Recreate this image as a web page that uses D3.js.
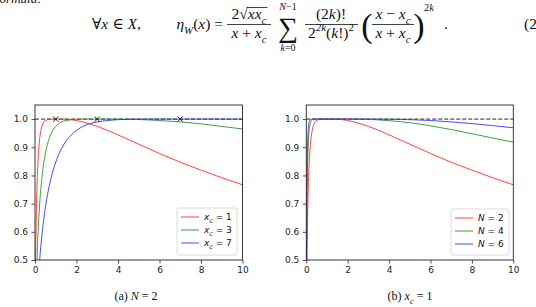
<!DOCTYPE html>
<html>
<head>
<meta charset="utf-8">
<script src="https://cdn.jsdelivr.net/npm/d3@7"></script>
<style>
  body { margin: 0; background: white; }
  svg { display: block; }
</style>
</head>
<body>
<div id="container"></div>
<script>
let w = 536;
let h = 307;

// sample points along x (shared by every curve)
let xGrid = [0, 0.025, 0.05, 0.1, 0.15, 0.2, 0.3, 0.4, 0.5, 0.75, 1, 1.25, 1.5, 2, 2.5, 3, 3.5, 4, 5, 6, 7, 8, 9, 10];

// panel (a): N = 2, different x_c
let etaXc1 = [0, 0.448, 0.600, 0.767, 0.858, 0.911, 0.965, 0.987, 0.995, 0.9998, 1.0, 0.9999, 0.9994, 0.995, 0.986, 0.974, 0.960, 0.944, 0.911, 0.878, 0.847, 0.819, 0.792, 0.767];
let etaXc3 = [0, 0.269, 0.373, 0.508, 0.600, 0.670, 0.767, 0.833, 0.878, 0.944, 0.974, 0.989, 0.995, 0.9994, 1.0, 1.0, 1.0, 0.9998, 0.9985, 0.995, 0.990, 0.983, 0.974, 0.965];
let etaXc7 = [0, 0.178, 0.249, 0.347, 0.418, 0.475, 0.564, 0.632, 0.686, 0.784, 0.847, 0.891, 0.922, 0.960, 0.980, 0.990, 0.995, 0.998, 0.9997, 1.0, 1.0, 1.0, 0.9999, 0.9997];
let crossX = [1, 3, 7];
let labelsA = ["1", "3", "7"];

// panel (b): x_c = 1, different N
let etaN2 = [0, 0.448, 0.600, 0.767, 0.858, 0.911, 0.965, 0.987, 0.995, 0.9998, 1.0, 0.9999, 0.9994, 0.995, 0.986, 0.974, 0.960, 0.944, 0.911, 0.878, 0.847, 0.819, 0.792, 0.767];
let etaN4 = [0, 0.614, 0.780, 0.918, 0.967, 0.987, 0.998, 0.9997, 1.0, 1.0, 1.0, 1.0, 1.0, 1.0, 0.9997, 0.9988, 0.9971, 0.9945, 0.987, 0.976, 0.963, 0.948, 0.933, 0.918];
let etaN6 = [0, 0.717, 0.871, 0.969, 0.992, 0.998, 0.9999, 1.0, 1.0, 1.0, 1.0, 1.0, 1.0, 1.0, 1.0, 0.9999, 0.9998, 0.9994, 0.998, 0.995, 0.990, 0.984, 0.977, 0.969];
let labelsB = ["2", "4", "6"];

let xTicks = [0, 2, 4, 6, 8, 10];
let yTicks = [0.5, 0.6, 0.7, 0.8, 0.9, 1.0];
let colors = ["#ff2020", "#1f8f1f", "#2a2aff"];

let serif = "'Liberation Serif', 'DejaVu Serif', serif";
let sans = "'DejaVu Sans', sans-serif";

let viz = d3.select("#container").append("svg")
  .attr("width", w)
  .attr("height", h)
  .style("background-color", "white");

// little helper for math-ish text: parts = [[string, style]]
// style: r roman, i italic, is italic sub, rs roman sub, ip italic sup, rp roman sup
function mathText(x, y, parts, size, anchor, family) {
  let t = viz.append("text")
    .attr("x", x).attr("y", y)
    .attr("font-family", family || serif)
    .attr("font-size", size)
    .attr("text-anchor", anchor || "start")
    .attr("fill", "#111");
  let shift = 0;
  parts.forEach(function(p) {
    let st = p[1];
    let target = 0;
    if (st == "is" || st == "rs") target = size * 0.3;
    if (st == "ip" || st == "rp") target = -size * 0.45;
    let ts = t.append("tspan").text(p[0]).attr("dy", target - shift);
    shift = target;
    if (target != 0) ts.attr("font-size", size * 0.7);
    if (st[0] == "i") ts.attr("font-style", "italic");
  });
  return t;
}

// ---------- formula on top ----------
mathText(-4, 3, [["formula:", "i"]], 13);

let fs = 15.5;
let base = 29;
mathText(92, base, [["∀", "r"], ["x", "i"], [" ∈ ", "r"], ["X", "i"], [",", "r"]], fs);
mathText(223, base, [["η", "i"], ["W", "is"], ["(", "r"], ["x", "i"], [") =", "r"]], fs, "end");

// first fraction
let num1 = mathText(249, 19, [["2√", "r"], ["x", "i"], ["x", "i"], ["c", "is"]], fs, "middle");
let n1 = num1.node();
let barStart = n1.getEndPositionOfChar(1).x;
let barEnd = n1.getEndPositionOfChar(4).x + 1;
viz.append("line").attr("x1", barStart - 1).attr("x2", barEnd).attr("y1", 7.5).attr("y2", 7.5)
  .attr("stroke", "#111").attr("stroke-width", 0.8);
viz.append("line").attr("x1", 227).attr("x2", 271).attr("y1", 24.5).attr("y2", 24.5)
  .attr("stroke", "#111").attr("stroke-width", 0.8);
mathText(249, 38, [["x", "i"], [" + ", "r"], ["x", "i"], ["c", "is"]], fs, "middle");

// sum
mathText(288, 37, [["∑", "r"]], 28, "middle");
mathText(288, 10, [["N", "i"], ["−1", "r"]], 10, "middle");
mathText(288, 51, [["k", "i"], ["=0", "r"]], 10, "middle");

// second fraction
mathText(331, 19, [["(2", "r"], ["k", "i"], [")!", "r"]], fs, "middle");
viz.append("line").attr("x1", 305).attr("x2", 358).attr("y1", 24.5).attr("y2", 24.5)
  .attr("stroke", "#111").attr("stroke-width", 0.8);
mathText(331, 38, [["2", "r"], ["2k", "ip"], ["(", "r"], ["k", "i"], ["!)", "r"], ["2", "rp"]], fs, "middle");

// big parenthesis fraction
mathText(367, 37, [["(", "r"]], 34, "middle");
mathText(393, 19, [["x", "i"], [" − ", "r"], ["x", "i"], ["c", "is"]], fs, "middle");
viz.append("line").attr("x1", 372).attr("x2", 414).attr("y1", 24.5).attr("y2", 24.5)
  .attr("stroke", "#111").attr("stroke-width", 0.8);
mathText(393, 38, [["x", "i"], [" + ", "r"], ["x", "i"], ["c", "is"]], fs, "middle");
mathText(419, 37, [[")", "r"]], 34, "middle");
mathText(424, 11, [["2", "r"], ["k", "i"]], 10.5);
mathText(444, base, [[".", "r"]], fs);
mathText(524, base, [["(2", "r"]], fs);

// ---------- panels ----------
let plotTop = 105, plotBottom = 260;

function drawPanel(id, x0, x1, seriesList, legendLabels, legendPrefix, legendBox, withCrosses) {
  let xScale = d3.scaleLinear().domain([0, 10]).range([x0, x1]);
  let yScale = d3.scaleLinear().domain([0.5, 1.05]).range([plotBottom, plotTop]);

  let g = viz.append("g");

  viz.append("clipPath").attr("id", "clip" + id)
    .append("rect").attr("x", x0).attr("y", plotTop).attr("width", x1 - x0).attr("height", plotBottom - plotTop);

  let plot = g.append("g").attr("clip-path", "url(#clip" + id + ")");

  let lineMaker = d3.line()
    .x(function(d, i) { return xScale(xGrid[i]); })
    .y(function(d) { return yScale(d); })
    .curve(d3.curveMonotoneX);

  // dashed reference at 1
  plot.append("line")
    .attr("x1", xScale(0)).attr("x2", xScale(10))
    .attr("y1", yScale(1)).attr("y2", yScale(1))
    .attr("stroke", "#222").attr("stroke-width", 1)
    .attr("stroke-dasharray", "4,2");

  seriesList.forEach(function(s, i) {
    plot.append("path")
      .datum(s)
      .attr("d", lineMaker)
      .attr("fill", "none")
      .attr("stroke", colors[i])
      .attr("stroke-opacity", 0.85)
      .attr("stroke-width", 1);
  });

  if (withCrosses) {
    crossX.forEach(function(cx) {
      let px = xScale(cx), py = yScale(1), r = 2.6;
      plot.append("path")
        .attr("d", "M" + (px - r) + "," + (py - r) + "L" + (px + r) + "," + (py + r) +
                   "M" + (px - r) + "," + (py + r) + "L" + (px + r) + "," + (py - r))
        .attr("stroke", "#222").attr("stroke-width", 1);
    });
  }

  // frame
  g.append("rect")
    .attr("x", x0).attr("y", plotTop).attr("width", x1 - x0).attr("height", plotBottom - plotTop)
    .attr("fill", "none").attr("stroke", "#222").attr("stroke-width", 0.9);

  let xAxis = g.append("g")
    .attr("transform", "translate(0," + plotBottom + ")")
    .call(d3.axisBottom(xScale).tickValues(xTicks).tickSize(3.5).tickPadding(3).tickSizeOuter(0)
      .tickFormat(d3.format("d")));
  let yAxis = g.append("g")
    .attr("transform", "translate(" + x0 + ",0)")
    .call(d3.axisLeft(yScale).tickValues(yTicks).tickSize(3.5).tickPadding(3.5).tickSizeOuter(0)
      .tickFormat(d3.format(".1f")));
  [xAxis, yAxis].forEach(function(a) {
    a.select(".domain").remove();
    a.selectAll("line").attr("stroke", "#222").attr("stroke-width", 0.8);
    a.selectAll("text").attr("font-family", sans).attr("font-size", 9).attr("fill", "#222");
  });

  // legend
  g.append("rect")
    .attr("x", legendBox[0]).attr("y", legendBox[1])
    .attr("width", legendBox[2]).attr("height", legendBox[3])
    .attr("rx", 2)
    .attr("fill", "white").attr("fill-opacity", 0.85)
    .attr("stroke", "#d0d0d0").attr("stroke-width", 0.8);
  legendLabels.forEach(function(lab, i) {
    let ly = legendBox[1] + 9 + i * 13;
    let lx = legendBox[0] + 4;
    g.append("line")
      .attr("x1", lx).attr("x2", lx + 18)
      .attr("y1", ly).attr("y2", ly)
      .attr("stroke", colors[i]).attr("stroke-opacity", 0.85).attr("stroke-width", 1);
    mathText(lx + 23, ly + 3.3, legendPrefix.concat([[" = " + lab, "r"]]), 9, "start", sans);
  });
}

drawPanel("a", 35, 242.5, [etaXc1, etaXc3, etaXc7], labelsA, [["x", "i"], ["c", "is"]], [177, 208, 60, 47], true);
drawPanel("b", 306.3, 513.3, [etaN2, etaN4, etaN6], labelsB, [["N", "i"]], [451, 209, 58, 46], false);

// captions
mathText(136, 300, [["(a)  ", "r"], ["N", "i"], [" = 2", "r"]], 12, "middle");
mathText(410, 300, [["(b)  ", "r"], ["x", "i"], ["c", "is"], [" = 1", "r"]], 12, "middle");
</script>
</body>
</html>
